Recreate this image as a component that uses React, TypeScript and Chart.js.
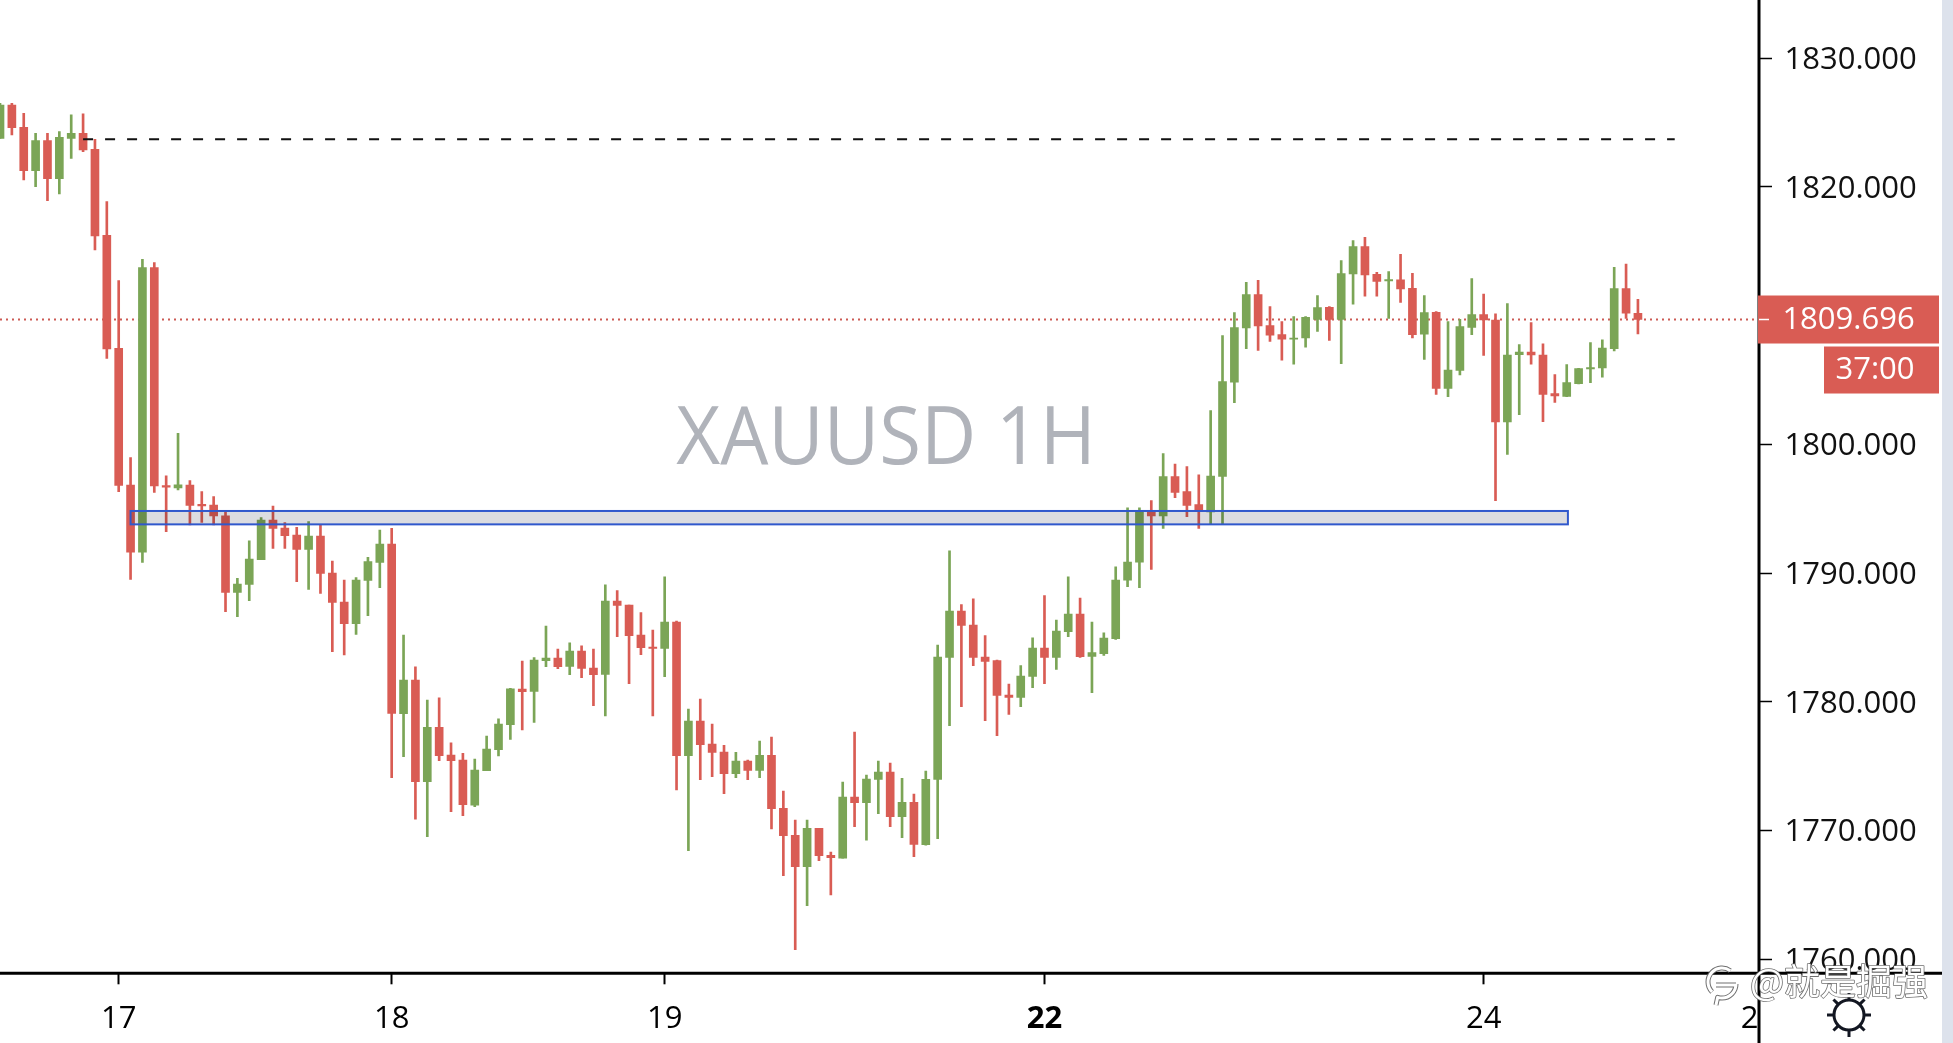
import React, { useEffect, useRef } from "react";
import { Chart, registerables } from "chart.js";

Chart.register(...registerables);

const opens = [
  1823.77, 1826.36, 1824.63, 1821.26, 1823.59, 1820.64, 1823.77, 1824.16, 1822.92, 1816.24,
  1807.46, 1796.84, 1791.61, 1813.73, 1796.79, 1796.61, 1796.84, 1795.34, 1795.28, 1794.45,
  1788.50, 1789.12, 1791.03, 1794.12, 1793.49, 1792.95, 1791.84, 1792.87, 1790.00, 1787.74,
  1786.06, 1789.43, 1790.83, 1792.25, 1779.07, 1781.68, 1773.78, 1778.01, 1775.86, 1775.47,
  1771.97, 1774.64, 1776.27, 1778.21, 1780.98, 1780.80, 1783.19, 1783.39, 1782.75, 1783.94,
  1782.62, 1782.12, 1787.82, 1787.51, 1785.18, 1784.25, 1784.14, 1786.19, 1775.80, 1778.50,
  1776.71, 1776.09, 1774.41, 1775.39, 1774.67, 1775.83, 1771.71, 1769.61, 1767.18, 1770.16,
  1768.06, 1767.85, 1772.59, 1772.15, 1773.97, 1774.54, 1771.06, 1772.18, 1768.89, 1773.97,
  1783.45, 1787.05, 1785.96, 1783.47, 1783.19, 1780.52, 1780.34, 1781.97, 1784.17, 1783.45,
  1785.44, 1786.81, 1783.52, 1783.73, 1784.90, 1789.45, 1790.85, 1794.74, 1794.43, 1797.49,
  1796.32, 1795.31, 1794.74, 1797.51, 1804.82, 1809.04, 1811.63, 1809.22, 1808.52, 1808.16,
  1808.26, 1809.71, 1810.64, 1809.71, 1813.23, 1815.36, 1813.21, 1812.69, 1812.77, 1812.12,
  1808.55, 1810.26, 1804.35, 1805.75, 1809.09, 1810.07, 1809.66, 1801.73, 1806.97, 1807.17,
  1806.94, 1803.94, 1803.73, 1804.71, 1805.85, 1805.93, 1807.43, 1812.09, 1810.18,
];
const highs = [
  1826.49, 1826.49, 1825.72, 1824.16, 1824.16, 1824.29, 1825.59, 1825.67, 1823.70, 1818.85,
  1812.72, 1798.96, 1814.37, 1814.11, 1797.56, 1800.85, 1797.18, 1796.32, 1795.93, 1794.71,
  1789.58, 1792.51, 1794.30, 1795.20, 1793.91, 1793.55, 1793.99, 1793.78, 1790.93, 1789.45,
  1789.64, 1791.22, 1793.34, 1793.47, 1785.18, 1782.72, 1780.13, 1780.31, 1776.81, 1775.99,
  1775.55, 1777.33, 1778.68, 1781.04, 1783.16, 1783.42, 1785.88, 1784.09, 1784.58, 1784.35,
  1784.09, 1789.09, 1788.63, 1787.51, 1786.92, 1785.57, 1789.71, 1786.27, 1779.43, 1780.21,
  1778.27, 1776.61, 1776.06, 1775.47, 1776.94, 1777.26, 1773.06, 1770.81, 1770.81, 1770.16,
  1768.32, 1773.76, 1777.64, 1774.30, 1775.39, 1775.23, 1774.04, 1772.83, 1774.61, 1784.40,
  1791.73, 1787.54, 1788.00, 1785.13, 1783.24, 1781.37, 1782.80, 1784.97, 1788.24, 1786.35,
  1789.71, 1788.06, 1786.19, 1785.36, 1790.49, 1795.07, 1795.07, 1795.62, 1799.27, 1798.47,
  1798.26, 1797.62, 1802.62, 1808.44, 1810.23, 1812.59, 1812.74, 1810.70, 1809.53, 1809.92,
  1809.92, 1811.55, 1810.70, 1814.27, 1815.82, 1816.08, 1813.36, 1813.42, 1814.76, 1813.29,
  1811.55, 1810.31, 1809.53, 1809.71, 1812.87, 1811.68, 1810.13, 1810.93, 1807.74, 1809.45,
  1807.80, 1805.41, 1806.19, 1805.90, 1807.90, 1808.11, 1813.75, 1814.01, 1811.27,
];
const lows = [
  1823.77, 1824.03, 1820.54, 1820.02, 1818.93, 1819.45, 1822.22, 1822.74, 1815.10, 1806.68,
  1796.32, 1789.51, 1790.83, 1796.27, 1793.21, 1796.45, 1793.73, 1793.94, 1793.73, 1786.99,
  1786.60, 1787.85, 1791.03, 1791.91, 1791.91, 1789.32, 1788.73, 1788.42, 1783.89, 1783.63,
  1785.23, 1786.68, 1788.86, 1774.10, 1775.73, 1770.88, 1769.51, 1775.42, 1771.45, 1771.14,
  1771.84, 1774.64, 1775.78, 1777.07, 1777.80, 1778.39, 1782.72, 1782.56, 1782.10, 1781.87,
  1779.69, 1778.89, 1785.05, 1781.40, 1783.65, 1778.89, 1781.94, 1773.14, 1768.42, 1773.94,
  1774.17, 1772.85, 1774.10, 1773.94, 1774.10, 1770.11, 1766.48, 1760.73, 1764.15, 1767.65,
  1764.98, 1767.85, 1770.29, 1769.25, 1771.30, 1770.29, 1769.43, 1767.96, 1768.86, 1769.36,
  1778.14, 1779.61, 1782.80, 1778.52, 1777.36, 1779.02, 1779.61, 1781.09, 1781.40, 1782.51,
  1785.05, 1783.45, 1780.70, 1783.60, 1784.84, 1788.94, 1788.86, 1790.28, 1793.47, 1795.86,
  1794.38, 1793.47, 1793.81, 1793.81, 1803.24, 1807.43, 1807.30, 1808.00, 1806.53, 1806.22,
  1807.54, 1808.78, 1808.08, 1806.27, 1810.88, 1811.50, 1811.50, 1809.79, 1811.03, 1808.26,
  1806.60, 1803.88, 1803.70, 1805.39, 1808.52, 1806.91, 1795.62, 1799.22, 1802.30, 1806.22,
  1801.76, 1803.26, 1803.70, 1804.69, 1804.79, 1805.21, 1807.25, 1809.79, 1808.57,
];
const closes = [
  1826.36, 1824.60, 1821.26, 1823.59, 1820.64, 1823.85, 1824.16, 1822.87, 1816.19, 1807.41,
  1796.81, 1791.61, 1813.73, 1796.76, 1796.66, 1796.86, 1795.26, 1795.21, 1794.43, 1788.50,
  1789.14, 1791.09, 1794.12, 1793.47, 1792.90, 1791.84, 1792.87, 1789.97, 1787.72, 1786.06,
  1789.45, 1790.88, 1792.25, 1779.09, 1781.68, 1773.78, 1778.01, 1775.80, 1775.42, 1772.00,
  1774.69, 1776.32, 1778.27, 1781.01, 1780.78, 1783.24, 1783.39, 1782.72, 1783.94, 1782.59,
  1782.10, 1787.82, 1787.49, 1785.13, 1784.20, 1784.14, 1786.19, 1775.80, 1778.50, 1776.66,
  1776.06, 1774.41, 1775.39, 1774.67, 1775.83, 1771.69, 1769.59, 1767.18, 1770.16, 1768.03,
  1767.88, 1772.59, 1772.15, 1773.99, 1774.54, 1771.06, 1772.18, 1768.92, 1773.97, 1783.47,
  1787.05, 1785.93, 1783.45, 1783.13, 1780.49, 1780.34, 1781.99, 1784.17, 1783.45, 1785.49,
  1786.81, 1783.50, 1783.81, 1784.95, 1789.45, 1790.85, 1794.76, 1794.43, 1797.49, 1796.27,
  1795.26, 1794.79, 1797.54, 1804.87, 1809.06, 1811.63, 1809.19, 1808.47, 1808.16, 1808.26,
  1809.87, 1810.62, 1809.71, 1813.26, 1815.36, 1813.16, 1812.66, 1812.79, 1812.07, 1808.52,
  1810.23, 1804.35, 1805.77, 1809.14, 1810.07, 1809.66, 1801.73, 1806.94, 1807.17, 1806.94,
  1803.88, 1803.75, 1804.79, 1805.88, 1805.96, 1807.48, 1812.09, 1810.18, 1809.71,
];

const yTickValues = [1760, 1770, 1780, 1790, 1800, 1810, 1820, 1830];
const xTickValues = [10, 33, 56, 88, 125, 147.4];
const xTickLabels = ["17", "18", "19", "22", "24", "2"];
const boldTick = 88;
const hiddenTick = 147.4;

const lastPrice = 1809.696;
const priceLabel = "1809.696";
const countdownLabel = "37:00";
const resistance = 1823.7;
const resistanceFrom = 7;
const resistanceTo = 141.1;
const zoneTop = 1794.82;
const zoneBottom = 1793.78;
const zoneFrom = 11;
const zoneTo = 132.1;
const watermarkTitle = "XAUUSD 1H";
const creditText = "@就是掘强";

const UP = "#7BA556";
const DOWN = "#D95C54";
const FONT = '"Open Sans", "Liberation Sans", sans-serif';

const chrome = {
  id: "chrome",
  beforeDraw(chart: any) {
    const { ctx, width, height } = chart;
    ctx.save();
    ctx.fillStyle = "#ffffff";
    ctx.fillRect(0, 0, width, height);
    ctx.fillStyle = "#DDE2EC";
    ctx.fillRect(1942, 0, width - 1942, height);
    ctx.fillStyle = "#B0B3BA";
    ctx.translate(886, 464);
    ctx.scale(0.94, 1);
    ctx.font = `500 81px ${FONT}`;
    ctx.textAlign = "center";
    ctx.textBaseline = "alphabetic";
    ctx.fillText(watermarkTitle, 0, 0);
    ctx.restore();
  },
  afterDatasetsDraw(chart: any) {
    const { ctx, scales } = chart;
    const { x, y } = scales;
    const l = x.getPixelForValue(zoneFrom);
    const r = x.getPixelForValue(zoneTo);
    const t = y.getPixelForValue(zoneTop);
    const b = y.getPixelForValue(zoneBottom);
    ctx.save();
    ctx.globalCompositeOperation = "multiply";
    ctx.fillStyle = "#DBDCE0";
    ctx.fillRect(l, t, r - l, b - t);
    ctx.globalCompositeOperation = "source-over";
    ctx.strokeStyle = "#3058CC";
    ctx.lineWidth = 2;
    ctx.strokeRect(l, t, r - l, b - t);
    ctx.restore();
  },
  afterDraw(chart: any) {
    const { ctx, scales, height, chartArea } = chart;
    const { y } = scales;
    ctx.save();
    ctx.strokeStyle = "#000";
    ctx.lineWidth = 3;
    ctx.beginPath();
    ctx.moveTo(chartArea.right, 0);
    ctx.lineTo(chartArea.right, height);
    ctx.moveTo(0, chartArea.bottom);
    ctx.lineTo(1942, chartArea.bottom);
    ctx.stroke();

    ctx.fillStyle = "#111";
    ctx.font = `31px ${FONT}`;
    ctx.textAlign = "left";
    ctx.textBaseline = "middle";
    y.ticks.forEach((t: any) => {
      ctx.fillText(t.label, 1784.5, y.getPixelForValue(t.value) + 2);
    });

    const py = y.getPixelForValue(lastPrice);
    ctx.fillStyle = DOWN;
    ctx.fillRect(1758, py - 24, 181, 48);
    ctx.fillRect(1824, py + 27, 115, 47);
    ctx.strokeStyle = "#fff";
    ctx.lineWidth = 1.5;
    ctx.beginPath();
    ctx.moveTo(1759, py);
    ctx.lineTo(1769, py);
    ctx.stroke();
    ctx.fillStyle = "#fff";
    ctx.font = `31px ${FONT}`;
    ctx.textAlign = "center";
    ctx.textBaseline = "middle";
    ctx.fillText(priceLabel, 1848.5, py + 1);
    ctx.fillText(countdownLabel, 1875, py + 51);

    const cx = 1849;
    const cy = 1015;
    ctx.strokeStyle = "#131722";
    ctx.lineWidth = 3;
    ctx.beginPath();
    ctx.arc(cx, cy, 15, 0, Math.PI * 2);
    ctx.stroke();
    for (let k = 0; k < 8; k++) {
      const a = (k * Math.PI) / 4;
      ctx.beginPath();
      ctx.moveTo(cx + Math.cos(a) * 15, cy + Math.sin(a) * 15);
      ctx.lineTo(cx + Math.cos(a) * 22, cy + Math.sin(a) * 22);
      ctx.stroke();
    }

    ctx.font = '36px "Noto Sans CJK SC", sans-serif';
    ctx.textAlign = "left";
    ctx.textBaseline = "alphabetic";
    ctx.lineJoin = "round";
    ctx.strokeStyle = "rgba(95,95,95,0.9)";
    ctx.lineWidth = 1.6;
    ctx.strokeText(creditText, 1750, 995);
    ctx.fillStyle = "#ffffff";
    ctx.fillText(creditText, 1750, 995);

    const bubble = () => {
      ctx.beginPath();
      ctx.arc(1722, 982, 14, Math.PI * 0.75, Math.PI * 1.7);
      ctx.moveTo(1736, 984);
      ctx.arc(1722, 984, 14, 0, Math.PI * 0.6);
      ctx.lineTo(1716, 1005);
      ctx.moveTo(1716, 985);
      ctx.lineTo(1736, 985);
      ctx.stroke();
    };
    ctx.strokeStyle = "rgba(95,95,95,0.9)";
    ctx.lineWidth = 5;
    bubble();
    ctx.strokeStyle = "#ffffff";
    ctx.lineWidth = 3;
    bubble();
    ctx.restore();
  },
};

export default function App() {
  const ref = useRef<HTMLCanvasElement | null>(null);
  useEffect(() => {
    document.body.style.margin = "0";
    const index = opens.map((_, i) => i);
    const colors = index.map((i) => (closes[i] >= opens[i] ? UP : DOWN));
    const fixMargins = (s: any) => {
      s.paddingTop = 0;
      s.paddingBottom = 0;
      s.paddingLeft = 0;
      s.paddingRight = 0;
    };
    const chart = new Chart(ref.current as HTMLCanvasElement, {
      type: "bar",
      data: {
        datasets: [
          {
            type: "line",
            data: [
              { x: 0, y: lastPrice },
              { x: 148.2, y: lastPrice },
            ],
            borderColor: "#CC5A54",
            borderWidth: 2,
            borderDash: [2, 4],
            pointRadius: 0,
            order: 5,
          },
          {
            data: index.map((i) => ({ x: i, y: [lows[i], highs[i]] })),
            backgroundColor: colors,
            barThickness: 2,
            grouped: false,
            borderSkipped: false,
            order: 3,
          },
          {
            data: index.map((i) => ({ x: i, y: [opens[i], closes[i]] })),
            backgroundColor: colors,
            barThickness: 8,
            grouped: false,
            borderSkipped: false,
            order: 2,
          },
          {
            type: "line",
            data: [
              { x: resistanceFrom, y: resistance },
              { x: resistanceTo, y: resistance },
            ],
            borderColor: "#111111",
            borderWidth: 2,
            borderDash: [10, 12],
            pointRadius: 0,
            order: 1,
          },
        ] as any,
      },
      options: {
        responsive: false,
        animation: false,
        devicePixelRatio: 1,
        events: [],
        layout: { padding: 0 },
        plugins: { legend: { display: false }, tooltip: { enabled: false } },
        scales: {
          x: {
            type: "linear",
            offset: false,
            min: 0,
            max: 148.2,
            border: { display: false },
            grid: {
              offset: false,
              drawOnChartArea: false,
              drawTicks: true,
              tickLength: 11,
              tickWidth: 2,
              tickColor: (c: any) => (c.tick && c.tick.value === hiddenTick ? "rgba(0,0,0,0)" : "#000"),
            },
            afterBuildTicks: (s: any) => {
              s.ticks = xTickValues.map((value) => ({ value }));
            },
            afterFit: (s: any) => {
              s.height = 69.7;
              fixMargins(s);
            },
            ticks: {
              autoSkip: false,
              maxRotation: 0,
              minRotation: 0,
              color: "#000",
              padding: 16.5,
              font: (c: any) => ({
                family: FONT,
                size: 31,
                weight: c.tick && c.tick.value === boldTick ? "bold" : "normal",
              }),
              callback: (v: any) => xTickLabels[xTickValues.indexOf(v)] ?? "",
            },
          } as any,
          y: {
            type: "linear",
            position: "right",
            min: 1758.9,
            max: 1834.52,
            border: { display: false },
            grid: {
              drawOnChartArea: false,
              drawTicks: true,
              tickLength: 13,
              tickWidth: 1.5,
              tickColor: "#000",
            },
            afterBuildTicks: (s: any) => {
              s.ticks = yTickValues.map((value) => ({ value }));
            },
            afterFit: (s: any) => {
              s.width = 194;
              fixMargins(s);
            },
            ticks: {
              display: false,
              autoSkip: false,
              callback: (v: any) => Number(v).toFixed(3),
            },
          } as any,
        },
      },
      plugins: [chrome],
    });
    return () => chart.destroy();
  }, []);
  return (
    <div style={{ width: 1953, height: 1043 }}>
      <canvas ref={ref} width={1953} height={1043} style={{ display: "block" }} />
    </div>
  );
}
